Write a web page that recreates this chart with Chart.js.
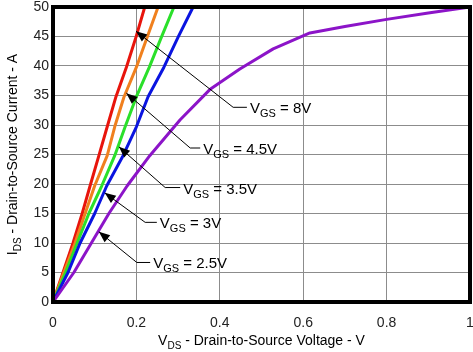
<!DOCTYPE html>
<html><head><meta charset="utf-8">
<script src="https://cdn.jsdelivr.net/npm/chart.js@4.4.0/dist/chart.umd.min.js"></script>
<style>html,body{margin:0;padding:0;background:#fff}#wrap{width:473px;height:352px}</style>
</head><body><div id="wrap"><canvas id="c"></canvas></div>
<script>
// Data (VDS in V, IDS in A)
const vgs8_V   = [0, 0.024, 0.048, 0.07, 0.089, 0.11, 0.13, 0.151, 0.176, 0.199, 0.22];
const vgs8_I   = [0, 5, 10, 15, 19.7, 24.8, 29.7, 34.8, 39.8, 44.9, 50];
const vgs45_V  = [0, 0.026, 0.053, 0.077, 0.1, 0.13, 0.148, 0.17, 0.2, 0.226, 0.252];
const vgs45_I  = [0, 5, 10, 15, 19.7, 24.8, 29.7, 34.7, 39.8, 44.9, 50];
const vgs35_V  = [0, 0.03, 0.058, 0.086, 0.117, 0.148, 0.173, 0.2, 0.231, 0.26, 0.29];
const vgs35_I  = [0, 5, 10, 15, 19.7, 24.8, 29.7, 34.8, 39.8, 44.9, 50];
const vgs3_V   = [0, 0.036, 0.065, 0.1, 0.129, 0.168, 0.2, 0.228, 0.266, 0.3, 0.336];
const vgs3_I   = [0, 5, 10, 15, 19.7, 24.8, 29.7, 34.8, 39.8, 44.9, 50];
const vgs25_V  = [0, 0.05, 0.092, 0.134, 0.178, 0.232, 0.305, 0.376, 0.448, 0.528, 0.616, 0.7, 0.8, 0.9, 1.0];
const vgs25_I  = [0, 5, 10, 15, 19.7, 24.8, 30.9, 36, 39.5, 42.9, 45.6, 46.7, 47.9, 49, 50];
const seriesLabels = ['8V', '4.5V', '3.5V', '3V', '2.5V'];
const xTicks = [0, 0.2, 0.4, 0.6, 0.8, 1];
const yTicks = [0, 5, 10, 15, 20, 25, 30, 35, 40, 45, 50];
// annotation arrows: tip on curve, elbow, end of leader (data coords)
const annTipV   = [0.199, 0.176, 0.158, 0.124, 0.11];
const annTipI   = [45.9, 35.4, 26.3, 18.5, 11.9];
const annElbowV = [0.432, 0.329, 0.269, 0.221, 0.201];
const annElbowI = [33.0, 26.1, 19.4, 13.5, 6.7];
const annEndV   = [0.465, 0.353, 0.305, 0.249, 0.233];

const colors = ['#e8140c', '#f0801e', '#2ae02a', '#0a14e0', '#8c14c8'];
const allV = [vgs8_V, vgs45_V, vgs35_V, vgs3_V, vgs25_V];
const allI = [vgs8_I, vgs45_I, vgs35_I, vgs3_I, vgs25_I];

const datasets = allV.map((vs, k) => ({
  label: 'VGS = ' + seriesLabels[k],
  data: vs.map((v, i) => ({x: v, y: allI[k][i]})),
  borderColor: colors[k], backgroundColor: colors[k],
  borderWidth: 3, pointRadius: 0, showLine: true, tension: 0,
  borderJoinStyle: 'round', fill: false
})).reverse();

const FONT = '"Liberation Sans", Arial, sans-serif';

function measureParts(ctx, parts, size) {
  let total = 0;
  parts.forEach(p => { ctx.font = (p[1] ? size - 4 : size) + 'px ' + FONT; total += ctx.measureText(p[0]).width; });
  return total;
}
function fillParts(ctx, parts, x, y, size) {
  let cx = x;
  parts.forEach(p => {
    ctx.font = (p[1] ? size - 4 : size) + 'px ' + FONT;
    ctx.fillText(p[0], cx, p[1] ? y + 4 : y);
    cx += ctx.measureText(p[0]).width;
  });
}

const deco = {
  id: 'deco',
  afterDraw(chart) {
    const ctx = chart.ctx, a = chart.chartArea, xs = chart.scales.x, ys = chart.scales.y;
    ctx.save();
    ctx.strokeStyle = '#000'; ctx.lineWidth = 4;
    ctx.strokeRect(a.left, a.top, a.right - a.left, a.bottom - a.top);
    ctx.fillStyle = '#000'; ctx.strokeStyle = '#000'; ctx.lineWidth = 1;
    ctx.textBaseline = 'alphabetic'; ctx.textAlign = 'left';
    for (let k = 0; k < seriesLabels.length; k++) {
      const tx = xs.getPixelForValue(annTipV[k]), ty = ys.getPixelForValue(annTipI[k]);
      const ex = xs.getPixelForValue(annElbowV[k]), ey = ys.getPixelForValue(annElbowI[k]);
      const fx = xs.getPixelForValue(annEndV[k]);
      ctx.beginPath(); ctx.moveTo(tx, ty); ctx.lineTo(ex, ey); ctx.lineTo(fx, ey); ctx.stroke();
      const ang = Math.atan2(ey - ty, ex - tx);
      const L = 11, W = 4.5;
      const bx = tx + Math.cos(ang) * L, by = ty + Math.sin(ang) * L;
      ctx.beginPath();
      ctx.moveTo(tx, ty);
      ctx.lineTo(bx - Math.sin(ang) * W, by + Math.cos(ang) * W);
      ctx.lineTo(bx + Math.sin(ang) * W, by - Math.cos(ang) * W);
      ctx.closePath(); ctx.fill();
      fillParts(ctx, [['V', false], ['GS', true], [' = ' + seriesLabels[k], false]], fx + 3, ey + 6, 15);
    }
    const xparts = [['V', false], ['DS', true], [' - Drain-to-Source Voltage - V', false]];
    const w = measureParts(ctx, xparts, 14);
    fillParts(ctx, xparts, (a.left + a.right) / 2 - w / 2, 345, 14);
    const yparts = [['I', false], ['DS', true], [' - Drain-to-Source Current - A', false]];
    const wy = measureParts(ctx, yparts, 14);
    ctx.translate(17, (a.top + a.bottom) / 2);
    ctx.rotate(-Math.PI / 2);
    fillParts(ctx, yparts, -wy / 2, 0, 14);
    ctx.restore();
  }
};

new Chart(document.getElementById('c'), {
  type: 'scatter',
  data: { datasets },
  options: {
    responsive: true, maintainAspectRatio: false, animation: false,
    layout: { padding: { left: 0, right: 3, top: 7, bottom: 0 } },
    plugins: { legend: { display: false }, tooltip: { enabled: false } },
    scales: {
      x: {
        type: 'linear', min: 0, max: 1,
        afterBuildTicks: s => { s.ticks = xTicks.map(v => ({value: v})); },
        afterFit: s => { s.height = 50; s.paddingLeft = 0; s.paddingRight = 0; },
        grid: { color: '#8c8c8c', lineWidth: 1, drawTicks: false },
        border: { display: false },
        ticks: { padding: 13, color: '#222', font: { family: FONT, size: 14 },
          callback: v => String(parseFloat(v.toFixed(1))), maxRotation: 0 }
      },
      y: {
        type: 'linear', min: 0, max: 50,
        afterBuildTicks: s => { s.ticks = yTicks.map(v => ({value: v})); },
        afterFit: s => { s.width = 53; s.paddingTop = 0; s.paddingBottom = 0; },
        grid: { color: '#8c8c8c', lineWidth: 1, drawTicks: false },
        border: { display: false },
        ticks: { padding: 4, color: '#222', font: { family: FONT, size: 14 } }
      }
    }
  },
  plugins: [deco]
});
</script></body></html>
